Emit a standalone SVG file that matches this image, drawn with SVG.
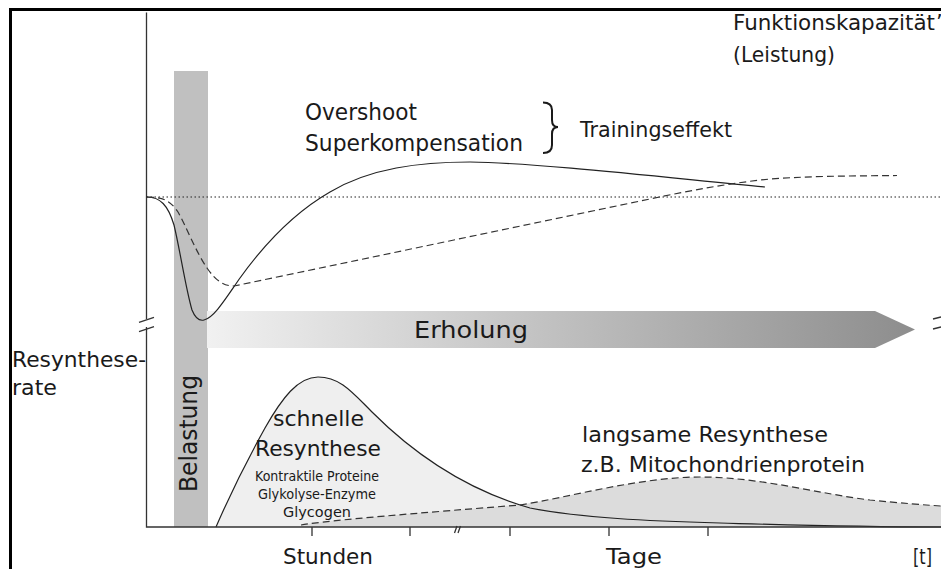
<svg xmlns="http://www.w3.org/2000/svg" width="941" height="569" viewBox="0 0 941 569">
  <style>
    .t { font-family: "DejaVu Sans", "Liberation Sans", sans-serif; fill: #1a1a1a; }
    .axis { stroke: #333; stroke-width: 1.3; fill: none; }
    .solid { stroke: #222; stroke-width: 1.2; fill: none; }
    .dash { stroke: #333; stroke-width: 1.2; fill: none; stroke-dasharray: 7 4; }
    .dot { stroke: #222; stroke-width: 1.2; fill: none; stroke-dasharray: 1.5 2.5; }
  </style>
  <defs>
    <linearGradient id="recovery" x1="0" y1="0" x2="1" y2="0">
      <stop offset="0" stop-color="#f1f1f1"/>
      <stop offset="1" stop-color="#8d8d8d"/>
    </linearGradient>
  </defs>
  <rect width="941" height="569" fill="#fff"/>

  <!-- frame -->
  <path d="M10.5,569 L10.5,9.5 L941,9.5" fill="none" stroke="#000" stroke-width="3"/>

  <!-- load bar -->
  <g id="belastung">
    <rect x="174" y="71" width="34" height="456" fill="#c0c0c0"/>
    <text class="t" font-size="24" transform="translate(197,492) rotate(-90)" textLength="117" lengthAdjust="spacingAndGlyphs">Belastung</text>
  </g>

  <!-- recovery arrow -->
  <g id="erholung">
    <polygon points="207,311 875,311 915,329.5 875,348 207,348" fill="url(#recovery)"/>
    <text class="t" font-size="23" x="414" y="338" textLength="114" lengthAdjust="spacingAndGlyphs">Erholung</text>
  </g>

  <!-- lower areas: fast and slow resynthesis -->
  <g id="schnelle-resynthese-flaeche">
    <path d="M216,527 C232,490 250,455 265,428 C282,398 298,377 318,377 C340,377 352,392 372,412 C410,450 460,488 530,508 C580,518 650,521 720,523 C790,525 850,527 941,527 Z" fill="#efefef"/>
  </g>
  <g id="langsame-resynthese">
    <path d="M301,525 C330,520 420,513 520,505 C570,497 640,477 700,477 C760,477 820,494 870,500 C900,503 925,505 941,506 L941,527 L301,527 Z" fill="#dcdcdc"/>
    <path class="dash" d="M301,525 C330,520 420,513 520,505 C570,497 640,477 700,477 C760,477 820,494 870,500 C900,503 925,505 941,506"/>
    <text class="t" font-size="21" x="582" y="442" textLength="246" lengthAdjust="spacingAndGlyphs">langsame Resynthese</text>
    <text class="t" font-size="21" x="581" y="472" textLength="284" lengthAdjust="spacingAndGlyphs">z.B. Mitochondrienprotein</text>
  </g>
  <g id="schnelle-resynthese">
    <path class="solid" d="M216,527 C232,490 250,455 265,428 C282,398 298,377 318,377 C340,377 352,392 372,412 C410,450 460,488 530,508 C580,518 650,521 720,523 C790,525 850,527 941,527"/>
    <text class="t" font-size="21" x="273" y="426" textLength="91" lengthAdjust="spacingAndGlyphs">schnelle</text>
    <text class="t" font-size="21" x="255" y="456" textLength="126" lengthAdjust="spacingAndGlyphs">Resynthese</text>
    <text class="t" font-size="14" x="255" y="481" textLength="124" lengthAdjust="spacingAndGlyphs">Kontraktile Proteine</text>
    <text class="t" font-size="14" x="258" y="499" textLength="118" lengthAdjust="spacingAndGlyphs">Glykolyse-Enzyme</text>
    <text class="t" font-size="14" x="283" y="517" textLength="68" lengthAdjust="spacingAndGlyphs">Glycogen</text>
  </g>

  <!-- axes, breaks and ticks -->
  <g id="achsen">
    <path class="axis" d="M146.5,12.5 L146.5,319 M146.5,327 L146.5,527 L941,527"/>
    <path class="axis" d="M139,322.3 L154,317.3 M139,331.7 L154,326.7 M933,319 L941,317 M933,329 L941,327"/>
    <path class="axis" d="M312,527 L312,536 M410,527 L410,536 M510,527 L510,536 M609,527 L609,536 M708,527 L708,536"/>
    <path class="axis" d="M454.5,533 L457,526 M458,533 L460.5,526"/>
    <path class="dot" d="M146.5,197 L941,197"/>
  </g>

  <!-- capacity curves -->
  <g id="connectors">
    <path class="solid" d="M147,197 C160,197 168,205 174,225 C180,250 186,290 192,310 C196,320 200,321 204,320 C214,318 226,298 240,278 C258,253 290,215 330,192 C370,168 420,162 470,162 C540,163 670,178 765,187"/>
    <path class="dash" d="M147,197 C162,197 170,200 178,212 C186,226 196,252 207,268 C216,281 224,286 234,286 L650,199 C690,190.6 720,185 760,180 C800,176 850,176 897,175.5"/>
  </g>

  <!-- labels -->
  <g id="funktionskapazitaet">
    <text class="t" font-size="21" x="733" y="30" textLength="202" lengthAdjust="spacingAndGlyphs">Funktionskapazität</text>
    <text class="t" font-size="21" x="936" y="30">’</text>
    <text class="t" font-size="21" x="733" y="62" textLength="102" lengthAdjust="spacingAndGlyphs">(Leistung)</text>
  </g>
  <g id="trainingseffekt">
    <text class="t" font-size="23" x="305" y="120" textLength="112" lengthAdjust="spacingAndGlyphs">Overshoot</text>
    <text class="t" font-size="23" x="305" y="151" textLength="218" lengthAdjust="spacingAndGlyphs">Superkompensation</text>
    <path d="M543,102.5 C549,102.5 552,105 552,110 L552,120 C552,125 554,127 558,127 C554,127 552,129 552,134 L552,145 C552,150 549,153 543,153" fill="none" stroke="#1a1a1a" stroke-width="2"/>
    <text class="t" font-size="21" x="580" y="137" textLength="152" lengthAdjust="spacingAndGlyphs">Trainingseffekt</text>
  </g>
  <g id="resyntheserate">
    <text class="t" font-size="21" x="12" y="367" textLength="134" lengthAdjust="spacingAndGlyphs">Resynthese-</text>
    <text class="t" font-size="21" x="12" y="395" textLength="45" lengthAdjust="spacingAndGlyphs">rate</text>
  </g>
  <g id="zeitachse">
    <text class="t" font-size="21" x="283" y="564" textLength="90" lengthAdjust="spacingAndGlyphs">Stunden</text>
    <text class="t" font-size="21" x="606" y="564" textLength="56" lengthAdjust="spacingAndGlyphs">Tage</text>
    <text class="t" font-size="21" x="913" y="564" textLength="19" lengthAdjust="spacingAndGlyphs">[t]</text>
  </g>
</svg>
